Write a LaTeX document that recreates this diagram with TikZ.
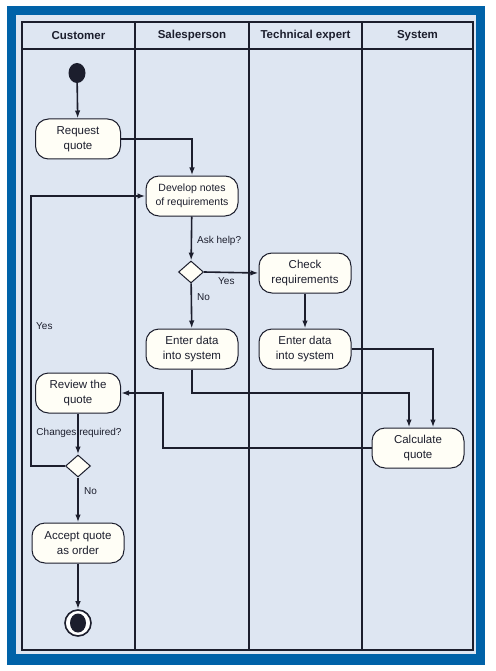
\documentclass[tikz,border=0pt]{standalone}
\usepackage{fontspec}
\setmainfont{Liberation Sans}
\usetikzlibrary{shapes,arrows.meta}
\definecolor{frameblue}{RGB}{0,98,168}
\definecolor{lanebg}{RGB}{222,230,242}
\definecolor{inkdark}{RGB}{28,30,45}
\definecolor{boxfill}{RGB}{255,254,246}
\begin{document}
\begin{tikzpicture}[x=1pt,y=-1pt]
    \tikzstyle{activity}=[rectangle,rounded corners=13pt,draw=inkdark,fill=boxfill,line width=1pt,minimum width=92pt,minimum height=40pt,align=center,font=\fontsize{11.5}{14.5}\selectfont,text=inkdark,inner sep=2pt]
    \tikzstyle{decision}=[diamond,draw=inkdark,fill=boxfill,line width=1pt,minimum width=25pt,minimum height=22pt,inner sep=0pt]
    \tikzstyle{flow}=[draw=inkdark,line width=1.6pt,-{Latex[length=8pt,width=5.5pt]}]
    \tikzstyle{lane}=[draw=inkdark,line width=1.8pt]
    \tikzstyle{guard}=[font=\fontsize{10}{12}\selectfont,text=inkdark,inner sep=1pt]
    \tikzstyle{lanehead}=[font=\bfseries\fontsize{11.5}{13}\selectfont,text=inkdark]
    \useasboundingbox (0,0) rectangle (495,671);
    % frame and swimlanes
    \fill[frameblue] (7,6) rectangle (485,665);
    \fill[lanebg] (16,15) rectangle (476,654);
    \draw[lane] (22,22) rectangle (473,650);
    \draw[lane] (22,49) -- (473,49);
    \foreach \x in {135,249,362} \draw[lane] (\x,22) -- (\x,650);
    \node[lanehead] (hcust) at (78.5,36) {Customer};
    \node[lanehead] (hsales) at (192,36) {Salesperson};
    \node[lanehead] (htech) at (305.5,36) {Technical expert};
    \node[lanehead] (hsys) at (417.5,36) {System};
    % activities
    \node[ellipse,fill=inkdark,minimum width=17pt,minimum height=20pt,inner sep=0pt] (start) at (77,73) {};
    \node[activity,minimum width=85pt] (rq) at (78,139) {Request\\quote};
    \node[activity,font=\fontsize{10.5}{14}\selectfont] (dn) at (192,196) {Develop notes\\of requirements};
    \node[decision] (help) at (191,272) {};
    \node[activity] (cr) at (305,273) {Check\\requirements};
    \node[activity] (eds) at (192,349) {Enter data\\into system};
    \node[activity] (edt) at (305,349) {Enter data\\into system};
    \node[activity] (cq) at (418,448) {Calculate\\quote};
    \node[activity,minimum width=85pt] (rv) at (78,393) {Review the\\quote};
    \node[decision] (change) at (78,466) {};
    \node[activity] (acc) at (78,543) {Accept quote\\as order};
    \node[circle,draw=inkdark,line width=1.6pt,fill=white,minimum size=26pt,inner sep=0pt] (stop) at (78,623) {};
    \fill[inkdark] (stop.center) ellipse (8 and 9.5);
    \coordinate (mergebend) at (192,393);
    \coordinate (backbend) at (163,393);
    \coordinate (loopcorner) at (31,466);
    % flows
    \draw[flow] (start) -- (rq);
    \draw[flow] (rq.east) -| (dn.north);
    \draw[flow] (dn) -- (help);
    \draw[flow] (help.east) -- (cr.west);
    \draw[flow] (help) -- (eds);
    \draw[flow] (cr) -- (edt);
    \draw[flow] (eds.south) -- (mergebend) -| ([xshift=-9pt]cq.north);
    \draw[flow] (edt.east) -| ([xshift=15pt]cq.north);
    \draw[flow] (cq.west) -| (backbend) -- (rv.east);
    \draw[flow] (rv) -- (change);
    \draw[flow] (change.west) -- (loopcorner) |- (dn.west);
    \draw[flow] (change) -- (acc);
    \draw[flow] (acc) -- (stop);
    % guards
    \node[guard,anchor=west] (askhelp) at (196,241) {Ask help?};
    \node[guard,anchor=west] (helpyes) at (217,281) {Yes};
    \node[guard,anchor=west] (helpno) at (196,297) {No};
    \node[guard,anchor=west] (changeyes) at (35,326) {Yes};
    \node[guard] (changeask) at (79,433) {Changes required?};
    \node[guard,anchor=west] (changeno) at (83,491) {No};
\end{tikzpicture}
\end{document}
